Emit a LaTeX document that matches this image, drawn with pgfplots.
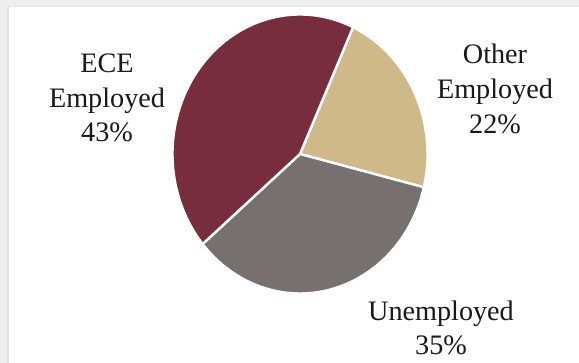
\documentclass[border=0pt]{standalone}
\usepackage{pgfplots}
\usepackage{pgfplotstable}
\pgfplotsset{compat=1.18}
\usepackage{fontspec}
\setmainfont{Liberation Serif}
\definecolor{ecec}{RGB}{119,45,62}
\definecolor{othc}{RGB}{207,185,137}
\definecolor{unec}{RGB}{118,113,112}
\definecolor{bgstrip}{RGB}{238,238,238}
\definecolor{bgline}{RGB}{226,226,226}

\pgfplotstableread{
label value
Other 22
Unemployed 35
ECE 43
}\piedata

\begin{document}
\begin{tikzpicture}
\pgfplotstablegetelem{0}{value}\of\piedata \let\vA\pgfplotsretval
\pgfplotstablegetelem{1}{value}\of\piedata \let\vB\pgfplotsretval
\pgfplotstablegetelem{2}{value}\of\piedata \let\vC\pgfplotsretval
\pgfmathsetmacro\aS{65.4}
\pgfmathsetmacro\aA{\aS-3.6*\vA}
\pgfmathsetmacro\aB{\aA-3.6*\vB}
\pgfmathsetmacro\aC{\aB-3.6*\vC}
\begin{axis}[
  at={(0,0)}, anchor=south west,
  width=289.5pt, height=181.5pt, scale only axis,
  xmin=0, xmax=579, ymin=0, ymax=363,
  hide axis, clip=false,
]
% background frame
\fill[bgstrip] (axis cs:0,0) rectangle (axis cs:579,363);
\fill[bgline] (axis cs:7,0) rectangle (axis cs:579,357);
\fill[white] (axis cs:8.5,0) rectangle (axis cs:579,355.5);
% pie wedges
\addplot[fill=othc, draw=white, line width=1.2pt, line join=round, domain=\aA:\aS, samples=80, variable=\t]
  ({300+127.5*cos(\t)},{209+139.5*sin(\t)}) -- (axis cs:300,209) -- cycle;
\addplot[fill=unec, draw=white, line width=1.2pt, line join=round, domain=\aB:\aA, samples=100, variable=\t]
  ({300+127.5*cos(\t)},{209+139.5*sin(\t)}) -- (axis cs:300,209) -- cycle;
\addplot[fill=ecec, draw=white, line width=1.2pt, line join=round, domain=\aC:\aB, samples=120, variable=\t]
  ({300+127.5*cos(\t)},{209+139.5*sin(\t)}) -- (axis cs:300,209) -- cycle;
% labels
\node[align=center, font=\fontsize{14.1}{17.3}\selectfont, text=black!90] at (axis cs:107,265) {ECE\\Employed\\\vC\%};
\node[align=center, font=\fontsize{14.1}{17.3}\selectfont, text=black!90] at (axis cs:495,274) {Other\\Employed\\\vA\%};
\node[align=center, font=\fontsize{14.1}{17.3}\selectfont, text=black!90] at (axis cs:441,35) {Unemployed\\\vB\%};
\end{axis}
\pgfresetboundingbox
\useasboundingbox (0,0) rectangle (289.5pt,181.5pt);
\end{tikzpicture}
\end{document}
